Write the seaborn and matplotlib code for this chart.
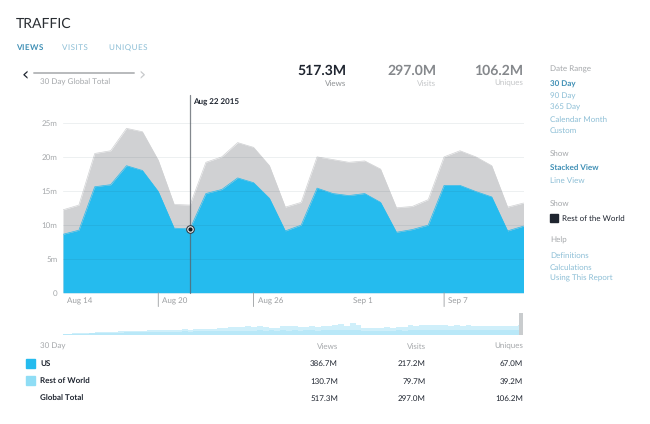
import numpy as np
import pandas as pd
import matplotlib
matplotlib.use('Agg')
import matplotlib.pyplot as plt
import seaborn as sns

W, H = 650, 424

days = pd.date_range('2015-08-14', periods=30)
us = [8.6, 9.2, 15.6, 15.9, 18.7, 18.0, 14.9, 9.5, 9.4, 14.6, 15.2, 16.9, 16.2, 13.9, 9.1,
      9.95, 15.4, 14.6, 14.3, 14.6, 13.3, 8.9, 9.3, 9.95, 15.8, 15.8, 14.9, 14.1, 9.1, 9.8]
total = [12.2, 12.9, 20.5, 20.9, 24.2, 23.7, 19.5, 13.0, 12.9, 19.2, 20.0, 22.1, 21.4, 18.7, 12.6,
         13.3, 20.0, 19.6, 19.2, 19.4, 18.2, 12.5, 12.7, 13.7, 20.0, 20.9, 20.0, 18.7, 12.6, 13.2]

y_ticks = [0, 5, 10, 15, 20, 25]
y_labels = ['0', '5m', '10m', '15m', '20m', '25m']
x_tick_days = ['2015-08-14', '2015-08-20', '2015-08-26', '2015-09-01', '2015-09-07']
x_tick_labels = ['Aug 14', 'Aug 20', 'Aug 26', 'Sep 1', 'Sep 7']

# overview strip under the chart, long history read by eye
brush_dark = [0.6, 0.7, 0.8, 0.9, 1.0, 1.1, 1.2, 1.3, 1.4, 1.5, 1.7, 1.8, 1.9, 2.0, 2.0, 2.1,
              2.2, 2.3, 2.2, 2.3, 2.4, 2.5, 2.4, 2.6, 2.7, 2.6, 2.8, 2.9, 2.8, 3.0, 3.0, 2.9,
              3.1, 3.0, 3.2, 3.1, 3.2, 3.0, 3.2, 3.1, 3.2, 3.0, 3.2, 3.3, 3.1, 3.3, 3.2, 3.4,
              3.6, 3.2, 3.7, 3.3, 3.0, 2.9, 3.0, 3.1, 3.0, 3.1, 3.2, 3.1, 3.5, 3.4, 3.5, 3.4,
              3.5, 3.4, 3.5, 3.4, 3.5, 3.4, 3.5, 3.3, 3.4, 3.3, 3.3, 3.2, 3.3, 3.3, 3.2, 3.3]
brush_light = [0.8, 0.9, 1.1, 1.3, 1.5, 1.7, 1.8, 1.9, 2.1, 2.3, 2.6, 2.9, 2.7, 3.0, 3.1, 3.2,
               3.4, 3.3, 3.6, 3.5, 3.7, 4.0, 3.6, 3.9, 4.3, 4.0, 4.5, 5.2, 5.0, 5.6, 5.4, 5.7,
               6.0, 5.6, 6.0, 5.8, 5.2, 4.9, 6.0, 6.1, 6.0, 5.8, 5.6, 6.2, 5.8, 6.0, 6.3, 7.2,
               8.0, 6.2, 8.2, 7.0, 5.2, 4.6, 4.9, 5.0, 5.4, 5.1, 5.6, 5.4, 6.8, 6.6, 6.9, 6.7,
               7.0, 6.7, 6.9, 6.6, 6.8, 6.6, 6.7, 6.2, 6.4, 6.2, 6.3, 6.0, 6.2, 6.4, 6.2, 7.0]

tabs = ['VIEWS', 'VISITS', 'UNIQUES']
summary_values = ['517.3M', '297.0M', '106.2M']
summary_names = ['Views', 'Visits', 'Uniques']
table_names = ['US', 'Rest of World', 'Global Total']
table_views = ['386.7M', '130.7M', '517.3M']
table_visits = ['217.2M', '79.7M', '297.0M']
table_uniques = ['67.0M', '39.2M', '106.2M']
date_links = ['30 Day', '90 Day', '365 Day', 'Calendar Month', 'Custom']
help_links = ['Definitions', 'Calculations', 'Using This Report']

BLUE = '#25BBEE'
GREY = '#D0D1D3'
LIGHT = '#8FDDF5'
LINK = '#8DBFD6'
LINK_ON = '#3F8FB5'
DARK = '#1F2530'
MUTED = '#A5A8AB'

sns.set_theme(style='white')
plt.rcParams['font.family'] = ['Lato', 'DejaVu Sans']
plt.rcParams['text.hinting'] = 'no_hinting'
plt.rcParams['text.hinting_factor'] = 1


def axes_px(fig, left, top, right, bottom):
    return fig.add_axes([left / W, 1 - bottom / H, (right - left) / W, (bottom - top) / H])


def label(fig, x, y, s, size=5.8, color=DARK, ha='left', weight='normal', **kwargs):
    # text sits a little high with va=center, nudge it down
    fig.text(x / W, 1 - (y + 0.7) / H, s, fontsize=size, color=color, ha=ha, va='center',
             fontweight=weight, **kwargs)


fig = plt.figure(figsize=(W / 100, H / 100), dpi=100)

ax = axes_px(fig, 63, 110, 523.5, 292.7)
df = pd.DataFrame({'day': days, 'us': us, 'total': total})
ax.fill_between(df['day'], df['total'], color=GREY, lw=0, zorder=1)
ax.fill_between(df['day'], df['us'], color=BLUE, lw=0, zorder=2)
sns.lineplot(data=df, x='day', y='total', color=GREY, lw=0.5, ax=ax, zorder=2)
sns.lineplot(data=df, x='day', y='us', color=BLUE, lw=0.5, ax=ax, zorder=3)
ax.set_xlim(days[0], days[-1])
ax.set_ylim(0, 26.9)
ax.set_yticks(y_ticks)
ax.set_yticklabels(y_labels, fontsize=5.8, color=MUTED)
ax.set_xticks(pd.to_datetime(x_tick_days))
ax.set_xticklabels([])
ax.set_xlabel('')
ax.set_ylabel('')
ax.tick_params(axis='y', length=0, pad=4)
ax.tick_params(axis='x', length=0)
ax.yaxis.grid(True, color='#1A3A4A', alpha=0.08, lw=0.7, zorder=4)
ax.set_axisbelow(False)
ax.xaxis.grid(False)
sns.despine(ax=ax, left=True, bottom=True, top=True, right=True)

# tick labels with the little separators below the baseline
for d, s in zip(x_tick_days, x_tick_labels):
    d = pd.Timestamp(d)
    ax.annotate(s, (d, 0), xytext=(3, -6.5), textcoords='offset points', fontsize=5.8,
                color='#9A9DA0', va='center', annotation_clip=False)
    if s not in ('Aug 14', 'Sep 1'):
        ax.annotate('', (d, 0), xytext=(0, -10), textcoords='offset points', annotation_clip=False,
                    arrowprops=dict(arrowstyle='-', color='#9A9DA0', lw=0.6, shrinkA=0, shrinkB=0))

# hover marker on Aug 22
hover = pd.Timestamp('2015-08-22')
hover_i = list(days).index(hover)
ax.axvline(hover, color='#5A6068', lw=0.9, alpha=0.75, ymin=0, ymax=1.08, clip_on=False, zorder=5)
ax.plot([hover], [us[hover_i]], 'o', ms=5.5, mfc='#DDE3E6', mec='#2A3038', mew=0.7, zorder=6)
ax.plot([hover], [us[hover_i]], 'o', ms=2, color='#101418', zorder=7)
label(fig, 193, 101.5, 'Aug 22 2015', size=5.6, weight='bold')

# overview strip
brush = axes_px(fig, 63, 312, 523.5, 335)
bx = np.arange(len(brush_light))
brush.fill_between(bx, brush_light, step='mid', color='#CFEFFA', lw=0)
brush.fill_between(bx, brush_dark, step='mid', color='#B9E8F8', lw=0)
brush.bar([bx[-1] + 0.1], [15.5], width=0.75, color='#C9CCCE', lw=0)
brush.set_xlim(0, bx[-1] + 0.5)
brush.set_ylim(0, 16)
brush.axis('off')

# header
label(fig, 16, 23.5, 'TRAFFIC', size=9.9, color='#2A2E33')
for x, s, c, w in zip([16, 62, 109], tabs, [LINK_ON, LINK, LINK], ['bold', 'normal', 'normal']):
    # hair spaces stand in for the letter spacing
    label(fig, x, 46.5, '\u200a'.join(s), size=5.7, color=c, weight=w)

# date pager
label(fig, 25, 75, '\u2039', size=13, color=DARK, ha='center', family='DejaVu Sans')
label(fig, 142, 75, '\u203a', size=13, color='#C8CACC', ha='center', family='DejaVu Sans')
fig.add_artist(plt.Line2D([34 / W, 134 / W], [1 - 72.5 / H] * 2, color='#B8BABC', lw=1.4))
label(fig, 40, 82, '30 Day Global Total', color=MUTED)

# big numbers
for x, v, n, c, nc in zip([346, 436.5, 523], summary_values, summary_names,
                          [DARK, '#85888C', '#85888C'], ['#8E9194', '#C4C6C8', '#C4C6C8']):
    label(fig, x, 70, v, size=10, color=c, ha='right', weight='bold')
    label(fig, x, 83, n, color=nc, ha='right')

# sidebar
label(fig, 550, 69, 'Date Range', color=MUTED)
for y, s, i in zip([84, 95.5, 107, 118.5, 130], date_links, range(5)):
    label(fig, 550, y, s, color=LINK_ON if i == 0 else LINK, weight='bold' if i == 0 else 'normal')
label(fig, 550, 153, 'Show', color=MUTED)
label(fig, 550, 168, 'Stacked View', color=LINK_ON, weight='bold')
label(fig, 550, 179.5, 'Line View', color=LINK)
label(fig, 550, 203, 'Show', color=MUTED)
fig.patches.append(plt.Rectangle((550 / W, 1 - 222 / H), 7.5 / W, 8 / H, color=DARK,
                                 transform=fig.transFigure, figure=fig))
label(fig, 562, 218, 'Rest of the World', color=DARK)
label(fig, 550, 240, 'Help', color=MUTED)
for y, s in zip([255, 266.5, 278], help_links):
    label(fig, 550, y, s, color=LINK)

# table under the chart
label(fig, 40, 346, '30 Day', color=MUTED)
for x, s in zip([338, 426, 523], summary_names):
    label(fig, x, 346, s, color=MUTED, ha='right')
for y, name, a, b, c in zip([363, 380.5, 398], table_names, table_views, table_visits, table_uniques):
    label(fig, 40, y, name, weight='bold')
    label(fig, 338, y, a, ha='right')
    label(fig, 426, y, b, ha='right')
    label(fig, 523, y, c, ha='right')
for y, c in zip([358.5, 376], [BLUE, LIGHT]):
    fig.patches.append(plt.Rectangle((26 / W, 1 - (y + 9) / H), 9 / W, 9 / H, color=c,
                                     transform=fig.transFigure, figure=fig))

fig.savefig('out.png', dpi=100)
